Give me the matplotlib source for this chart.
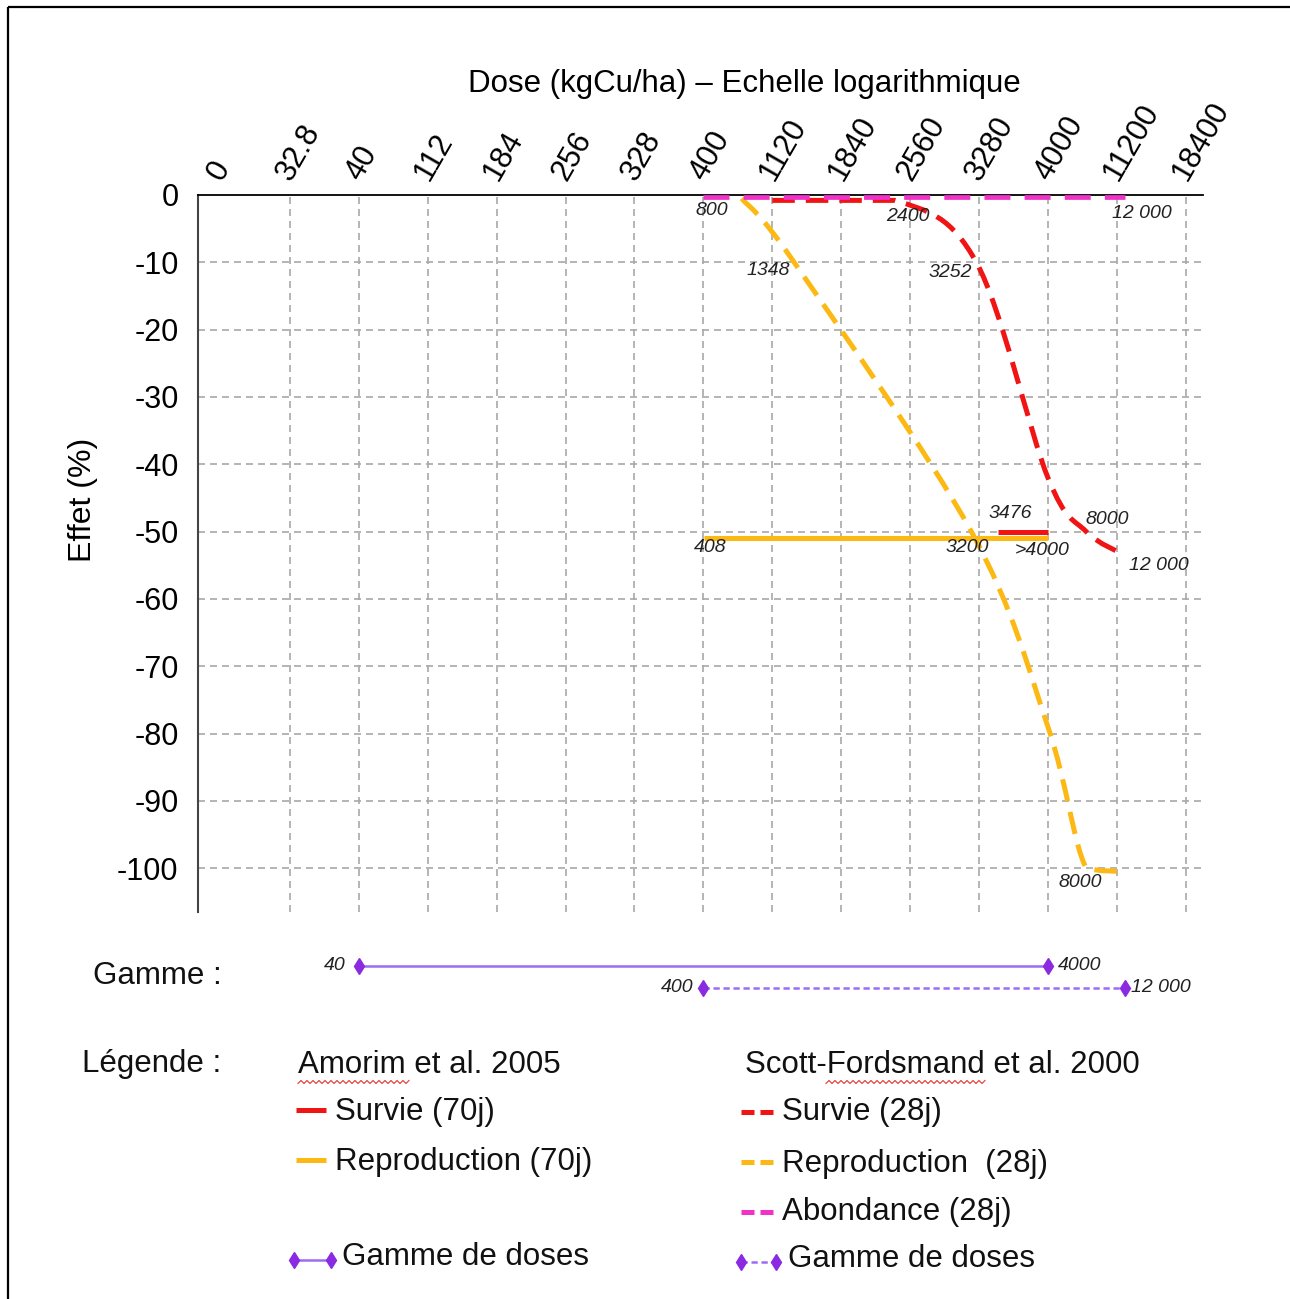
import numpy as np
import matplotlib
matplotlib.use('Agg')
import matplotlib.pyplot as plt
from matplotlib.path import Path
from matplotlib.patches import PathPatch, Rectangle
from matplotlib.ticker import NullLocator
from matplotlib.transforms import ScaledTranslation

plt.rcParams['font.family'] = ['Liberation Sans', 'DejaVu Sans']
plt.rcParams['axes.unicode_minus'] = False

# graduations of the dose axis (kgCu/ha), drawn at equal spacing
dose_ticks = [0, 32.8, 40, 112, 184, 256, 328, 400, 1120, 1840, 2560, 3280, 4000, 11200, 18400]
dose_tick_labels = ['0', '32.8', '40', '112', '184', '256', '328', '400', '1120',
                    '1840', '2560', '3280', '4000', '11200', '18400']
effect_ticks = [0, -10, -20, -30, -40, -50, -60, -70, -80, -90, -100]

# Amorim et al. 2005 (70 j)
amorim_survie_dose = [3476, 4000]
amorim_survie_effet = [-50, -50]
amorim_repro_dose = [408, 4000]
amorim_repro_effet = [-51, -51]

# Scott-Fordsmand et al. 2000 (28 j)
scott_survie_dose = [1120, 2400, 3252, 4000, 8000, 12000]
scott_survie_effet = [-0.8, -0.8, -10, -42, -50, -53.5]
scott_repro_dose = [800, 1348, 3200, 4000, 8000, 12000]
scott_repro_effet = [-0.5, -10, -50, -79, -100, -100.5]
scott_abond_dose = [400, 12000]
scott_abond_effet = [-0.3, -0.3]

# dose ranges tested
gamme_amorim = [40, 4000]
gamme_scott = [400, 12000]

RED = '#f01414'
ORANGE = '#fdb913'
PINK = '#f032c8'
PURPLE = '#9d6cf5'
PURPLE_MK = '#8a2be2'
GRID = '#a8a8a8'

W, H = 1290, 1299
fig = plt.figure(figsize=(W / 100, H / 100), dpi=100)


def box(x0, y0, x1, y1):
    return [x0 / W, 1 - y1 / H, (x1 - x0) / W, (y1 - y0) / H]


# piecewise-linear dose scale: each graduation one step to the right
d = np.array(dose_ticks, float)
tick_pos = np.arange(len(d), dtype=float)
lo_step = d[1] - d[0]
hi_step = d[-1] - d[-2]


def dose_to_pos(x):
    x = np.asarray(x, float)
    p = np.interp(x, d, tick_pos)
    p = np.where(x < d[0], (x - d[0]) / lo_step, p)
    p = np.where(x > d[-1], tick_pos[-1] + (x - d[-1]) / hi_step, p)
    return p


def pos_to_dose(p):
    p = np.asarray(p, float)
    x = np.interp(p, tick_pos, d)
    x = np.where(p < 0, d[0] + p * lo_step, x)
    x = np.where(p > tick_pos[-1], d[-1] + (p - tick_pos[-1]) * hi_step, x)
    return x


def smooth_path(xs, ys):
    # spreadsheet-style smoothed line: Bezier segments through the points
    P = np.column_stack([dose_to_pos(xs), np.asarray(ys, float)])
    n = len(P)
    verts = [P[0]]
    codes = [Path.MOVETO]
    for i in range(n - 1):
        p0, p1 = P[max(i - 1, 0)], P[i]
        p2, p3 = P[i + 1], P[min(i + 2, n - 1)]
        c1 = p1 + (p2 - p0) / 6
        c2 = p2 - (p3 - p1) / 6
        lo, hi = sorted((p1[1], p2[1]))
        c1[1] = np.clip(c1[1], lo, hi)
        c2[1] = np.clip(c2[1], lo, hi)
        verts += [c1, c2, p2]
        codes += [Path.CURVE4] * 3
    verts = np.array(verts)
    verts[:, 0] = pos_to_dose(verts[:, 0])
    return Path(verts, codes)


ax = fig.add_axes(box(198, 195, 1203, 912))
ax.set_xscale('function', functions=(dose_to_pos, pos_to_dose))

dash = (0, (4.5, 2.2))
ax.add_patch(PathPatch(smooth_path(scott_repro_dose, scott_repro_effet), fill=False,
                       edgecolor=ORANGE, lw=3.6, linestyle=dash, capstyle='butt',
                       clip_on=False, zorder=3))
ax.add_patch(PathPatch(smooth_path(scott_survie_dose, scott_survie_effet), fill=False,
                       edgecolor=RED, lw=3.6, linestyle=dash, capstyle='butt',
                       clip_on=False, zorder=3))
ax.plot(amorim_repro_dose, amorim_repro_effet, color=ORANGE, lw=3.6,
        solid_capstyle='butt', zorder=3)
ax.plot(amorim_survie_dose, amorim_survie_effet, color=RED, lw=3.6,
        solid_capstyle='butt', zorder=4)
ax.plot(scott_abond_dose, scott_abond_effet, color=PINK, lw=3.4, linestyle=(0, (5.5, 3)),
        dash_capstyle='butt', clip_on=False, zorder=5)

# value labels next to the curves
small_font = ['Liberation Sans Narrow', 'Liberation Sans']
lab_kw = dict(textcoords='offset pixels', ha='center', va='center', fontsize=14,
              style='italic', color='#222222', family=small_font, zorder=6)
value_labels = [
    ('800', 800, -0.5, -30, -12),
    ('2400', 2400, -0.8, 13, -16),
    ('12 000', 12000, -0.3, 17, -16),
    ('1348', 1348, -10, -26, -8),
    ('3252', 3252, -10, -26, -10),
    ('3476', 3476, -50, 12, 18),
    ('8000', 8000, -50, 21, 12),
    ('408', 408, -51, 6, -9),
    ('3200', 3200, -50, -4, -16),
    ('>4000', 4000, -51, -6, -12),
    ('12 000', 12000, -53.5, 34, -10),
    ('8000', 8000, -100, -6, -14),
]
for txt, xv, yv, dx, dy in value_labels:
    ax.annotate(txt, (xv, yv), xytext=(dx, dy), **lab_kw)

ax.set_xlim(pos_to_dose(-0.334), pos_to_dose(14.25))
ax.set_ylim(-106.5, 0)

ax.xaxis.tick_top()
ax.tick_params(axis='x', length=0, pad=12)
ax.tick_params(axis='y', length=0, pad=14)
ax.set_xticks(dose_ticks)
ax.set_xticklabels(dose_tick_labels, rotation=60, ha='left', va='center',
                   rotation_mode='anchor', fontsize=22)
ax.xaxis.set_minor_locator(NullLocator())
shift = ScaledTranslation(-6 / 100, 0, fig.dpi_scale_trans)
for lbl in ax.get_xticklabels():
    lbl.set_transform(lbl.get_transform() + shift)
ax.set_yticks(effect_ticks)
ax.set_yticklabels([str(v) for v in effect_ticks], fontsize=22)

for xv in dose_ticks[1:]:
    ax.axvline(xv, color=GRID, lw=1.2, linestyle=(0, (4.2, 3)), zorder=1)
for yv in effect_ticks[1:]:
    ax.axhline(yv, color=GRID, lw=1.2, linestyle=(0, (4.2, 3)), zorder=1)

for side in ['right', 'bottom']:
    ax.spines[side].set_visible(False)
ax.spines['top'].set_linewidth(1.3)
ax.spines['left'].set_linewidth(1.5)
ax.spines['left'].set_color('#444444')

ax.set_xlabel('Dose (kgCu/ha) – Echelle logarithmique', fontsize=22.5)
ax.xaxis.set_label_position('top')
ax.xaxis.set_label_coords((744 - 198) / 1005, 1 + (195 - 92) / 717)
ax.set_ylabel('Effet (%)', fontsize=23, va='center')
ax.yaxis.set_label_coords((83 - 198) / 1005, 1 - (500 - 195) / 717)

# dose range strip under the chart
axg = fig.add_axes(box(198, 940, 1203, 1010), sharex=ax)
axg.set_ylim(-1, 2.18)
axg.axis('off')
axg.plot(gamme_amorim, [1, 1], color=PURPLE, lw=1.8, marker='d', ms=8,
         mfc=PURPLE_MK, mec=PURPLE_MK, clip_on=False)
axg.plot(gamme_scott, [0, 0], color=PURPLE, lw=1.8, linestyle=(0, (2.5, 1.5)), marker='d',
         ms=8, mfc=PURPLE_MK, mec=PURPLE_MK, clip_on=False)
g_kw = dict(textcoords='offset pixels', ha='center', va='center', fontsize=14,
            style='italic', color='#222222', family=small_font)
axg.annotate(str(gamme_amorim[0]), (gamme_amorim[0], 1), xytext=(-24, 0), **g_kw)
axg.annotate(str(gamme_amorim[1]), (gamme_amorim[1], 1), xytext=(32, 0), **g_kw)
axg.annotate(str(gamme_scott[0]), (gamme_scott[0], 0), xytext=(-26, 0), **g_kw)
axg.annotate('12 000', (gamme_scott[1], 0), xytext=(36, 0), **g_kw)

# legend block and frame, laid out in pixel units
axp = fig.add_axes([0, 0, 1, 1])
axp.set_xlim(0, W)
axp.set_ylim(H, 0)
axp.axis('off')
axp.add_patch(Rectangle((8, 7), W + 20, H + 20, fill=False, ec='black', lw=1.6, clip_on=False))

t_kw = dict(fontsize=22.5, va='center', ha='left', color='#111111')
axp.text(93, 976, 'Gamme :', **t_kw)
axp.text(82, 1064, 'Légende :', **t_kw)
axp.text(298, 1065, 'Amorim et al. 2005', **t_kw)
axp.text(745, 1065, 'Scott-Fordsmand et al. 2000', **t_kw)

zig_x = np.arange(298, 411, 3)
axp.plot(zig_x, 1082 + 1.5 * (-1) ** np.arange(len(zig_x)), color='#e83030', lw=0.8)
zig_x = np.arange(826, 986, 3)
axp.plot(zig_x, 1082 + 1.5 * (-1) ** np.arange(len(zig_x)), color='#e83030', lw=0.8)

axp.plot([296, 326], [1110, 1110], color=RED, lw=3.6, solid_capstyle='butt')
axp.text(335, 1112, 'Survie (70j)', **t_kw)
axp.plot([296, 326], [1160, 1160], color=ORANGE, lw=3.6, solid_capstyle='butt')
axp.text(335, 1162, 'Reproduction (70j)', **t_kw)
axp.plot([294, 331], [1260, 1260], color=PURPLE, lw=1.8, marker='d', ms=8,
         mfc=PURPLE_MK, mec=PURPLE_MK)
axp.text(342, 1257, 'Gamme de doses', **t_kw)

sample_dash = (0, (2.6, 1.2))
axp.plot([741, 773], [1112, 1112], color=RED, lw=3.6, linestyle=sample_dash, dash_capstyle='butt')
axp.text(782, 1112, 'Survie (28j)', **t_kw)
axp.plot([741, 773], [1162, 1162], color=ORANGE, lw=3.6, linestyle=sample_dash, dash_capstyle='butt')
axp.text(782, 1164, 'Reproduction  (28j)', **t_kw)
axp.plot([741, 773], [1212, 1212], color=PINK, lw=3.6, linestyle=sample_dash, dash_capstyle='butt')
axp.text(782, 1212, 'Abondance (28j)', **t_kw)
axp.plot([741, 776], [1262, 1262], color=PURPLE, lw=1.8, linestyle=(0, (2.5, 1.5)),
         marker='d', ms=8, mfc=PURPLE_MK, mec=PURPLE_MK)
axp.text(788, 1259, 'Gamme de doses', **t_kw)

fig.savefig('out.png', dpi=100)
